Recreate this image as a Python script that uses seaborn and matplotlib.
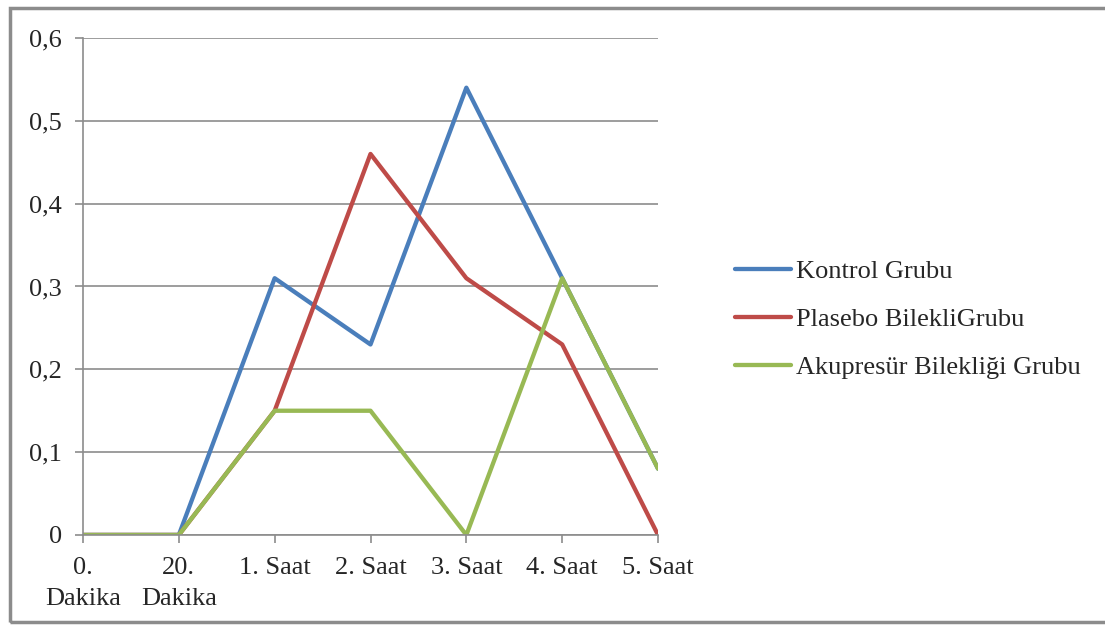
import pandas as pd
import numpy as np
import matplotlib
matplotlib.use('Agg')
import matplotlib.pyplot as plt
import matplotlib.ticker as mticker
import seaborn as sns

# veriler
categories = ['0. Dakika', '20. Dakika', '1. Saat', '2. Saat', '3. Saat', '4. Saat', '5. Saat']
tick_labels = ['0.\nDakika', '20.\nDakika', '1. Saat', '2. Saat', '3. Saat', '4. Saat', '5. Saat']
kontrol = [0, 0, 0.31, 0.23, 0.54, 0.31, 0.08]
plasebo = [0, 0, 0.15, 0.46, 0.31, 0.23, 0]
akupresur = [0, 0, 0.15, 0.15, 0, 0.31, 0.08]
groups = ['Kontrol Grubu', 'Plasebo BilekliGrubu', 'Akupresür Bilekliği Grubu']
colors = ['#4A7EBB', '#BE4B48', '#98B954']

df = pd.DataFrame({
    'zaman': categories * 3,
    'deger': kontrol + plasebo + akupresur,
    'grup': [g for g in groups for _ in categories],
})

sns.set_style('white')
plt.rcParams['font.family'] = ['Liberation Serif', 'DejaVu Serif']

fig = plt.figure(figsize=(11.05, 6.26), dpi=100)
ax = fig.add_axes([0.0751, 0.1454, 0.5204, 0.7939])

sns.lineplot(data=df, x='zaman', y='deger', hue='grup', hue_order=groups,
             palette=colors, linewidth=3.1, sort=False, ax=ax, legend=True)

# eksenler
ax.set_xlim(0, len(categories) - 1)
ax.set_ylim(0, 0.6)
ax.set_xticks(range(len(categories)))
ax.set_xticklabels(tick_labels, fontsize=19, linespacing=1.5)
ax.set_yticks(np.arange(0, 0.61, 0.1))
ax.yaxis.set_major_formatter(mticker.FuncFormatter(lambda v, p: '0' if v == 0 else f'{v:.1f}'.replace('.', ',')))
ax.tick_params(axis='y', labelsize=19, length=6, color='#8c8c8c', width=1.2, left=True, pad=9)
ax.tick_params(axis='x', length=6, color='#8c8c8c', width=1.2, bottom=True, pad=10)
ax.grid(axis='y', color='#8c8c8c', linewidth=1.2)
ax.set_axisbelow(True)
for s in ['top', 'right']:
    ax.spines[s].set_visible(False)
for s in ['left', 'bottom']:
    ax.spines[s].set_color('#8c8c8c')
    ax.spines[s].set_linewidth(1.2)
ax.set_xlabel('')
ax.set_ylabel('')

# lejant
handles, labels = ax.get_legend_handles_labels()
ax.get_legend().remove()
fig.legend(handles, labels, loc='center left', bbox_to_anchor=(0.644, 0.49),
           frameon=False, fontsize=19, handlelength=2.1, handletextpad=0.2,
           labelspacing=0.92)

# çerçeve
fig.patches.append(plt.Rectangle((10 / 1105, 4 / 626), 1.0, 614 / 626, transform=fig.transFigure,
                                 fill=False, edgecolor='#8c8c8c', linewidth=2.5))

fig.savefig('out.png', dpi=100)
